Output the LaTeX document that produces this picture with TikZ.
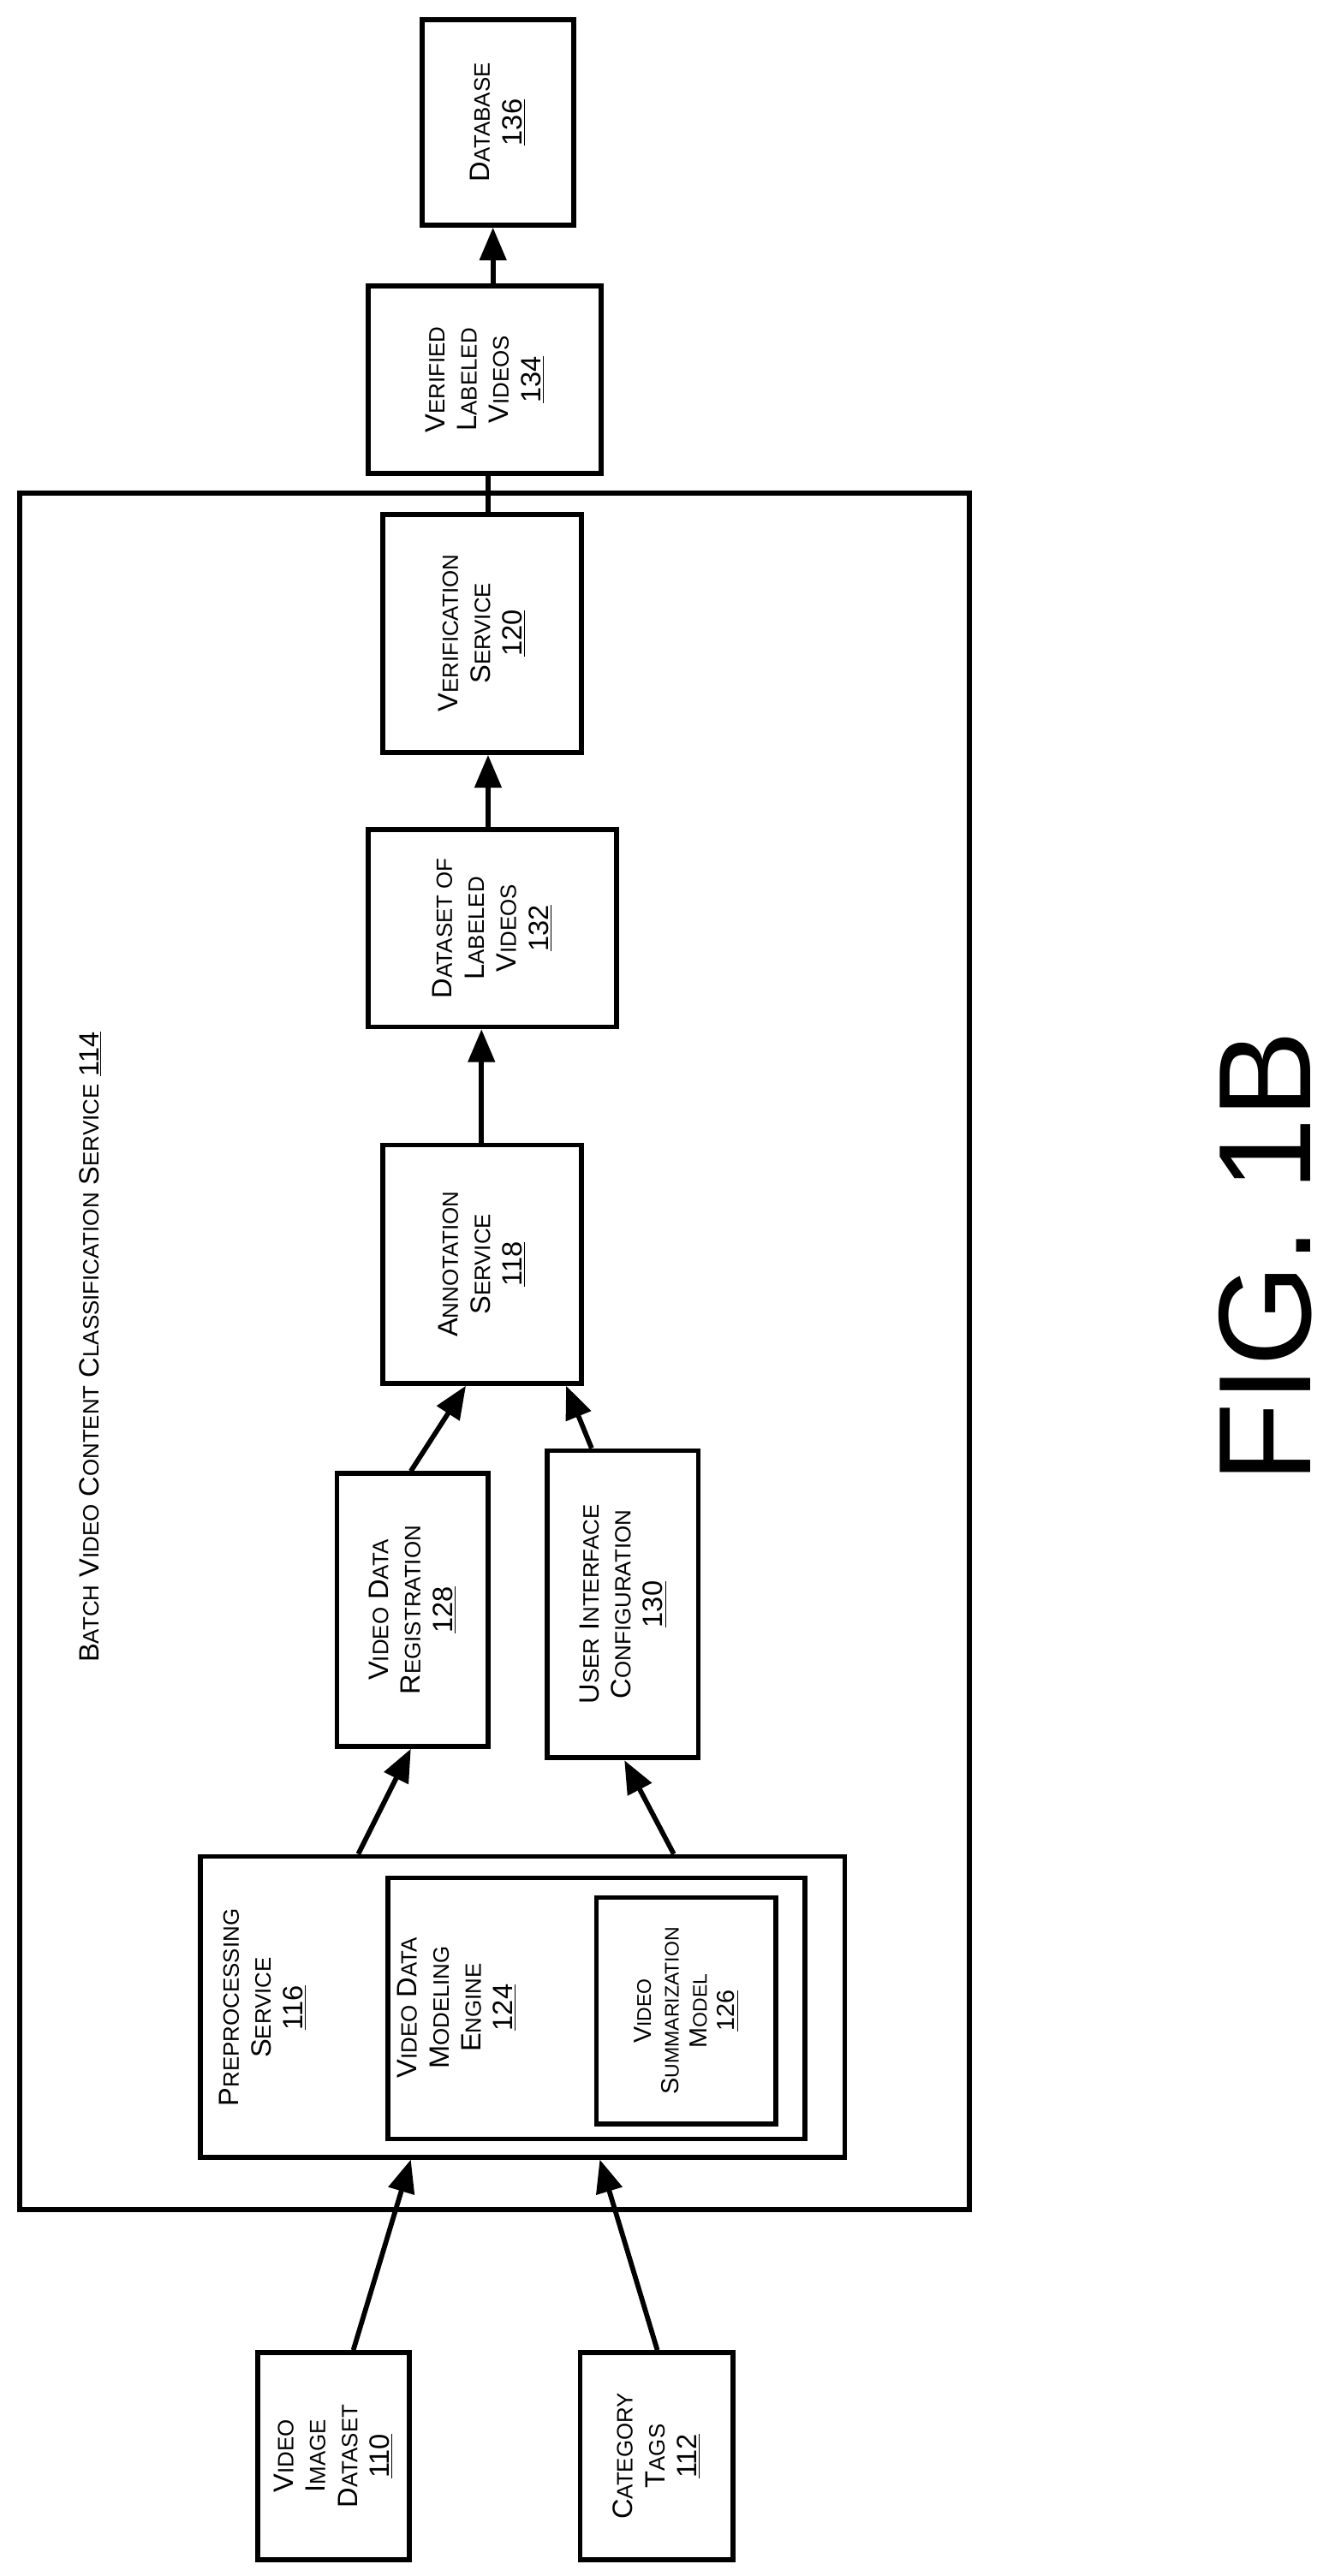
\documentclass[tikz,border=0pt]{standalone}
\usepackage{fontspec}
\setmainfont{Liberation Sans}
\usetikzlibrary{arrows.meta,calc}
\newcommand\sct[2]{#1{\fontsize{13.5}{15}\selectfont #2}}
\begin{document}
\begin{tikzpicture}[x=1pt,y=-1pt,
  box/.style={draw,line width=3pt,inner sep=0pt,font=\fontsize{17}{19.5}\selectfont},
  arr/.style={line width=3pt,-{Triangle[length=20pt,width=16pt]}},
  lbl/.style={rotate=90,align=center,font=\fontsize{17}{19.5}\selectfont}]
\useasboundingbox (0,0) rectangle (816,1568);
\node[box,minimum width=92,minimum height=125] (db) at (303,74.5) {};
\node[lbl] at (db) {\sct{D}{ATABASE}\\\underline{136}};
\node[box,minimum width=142,minimum height=114] (vlv) at (295,231) {};
\node[lbl] at (vlv) {\sct{V}{ERIFIED}\\\sct{L}{ABELED}\\\sct{V}{IDEOS}\\\underline{134}};
\draw[line width=3pt] (12,300) rectangle (590,1345);
\node[lbl] (outl) at (55,820) {\sct{B}{ATCH} \sct{V}{IDEO} \sct{C}{ONTENT} \sct{C}{LASSIFICATION} \sct{S}{ERVICE} \underline{114}};
\node[box,minimum width=121,minimum height=145] (ver) at (293.5,385.5) {};
\node[lbl] at (ver) {\sct{V}{ERIFICATION}\\\sct{S}{ERVICE}\\\underline{120}};
\node[box,minimum width=151,minimum height=120] (dlv) at (299.5,565) {};
\node[lbl] at (dlv) {\sct{D}{ATASET OF}\\\sct{L}{ABELED}\\\sct{V}{IDEOS}\\\underline{132}};
\node[box,minimum width=121,minimum height=145] (ann) at (293.5,769.5) {};
\node[lbl] at (ann) {\sct{A}{NNOTATION}\\\sct{S}{ERVICE}\\\underline{118}};
\node[box,minimum width=92,minimum height=166] (vdr) at (251,980) {};
\node[lbl] at (vdr) {\sct{V}{IDEO} \sct{D}{ATA}\\\sct{R}{EGISTRATION}\\\underline{128}};
\node[box,minimum width=92,minimum height=187] (uic) at (379,976.5) {};
\node[lbl] at (uic) {\sct{U}{SER} \sct{I}{NTERFACE}\\\sct{C}{ONFIGURATION}\\\underline{130}};
\node[box,minimum width=392,minimum height=183] (pre) at (318,1221.5) {};
\node[lbl] at (160,1222) {\sct{P}{REPROCESSING}\\\sct{S}{ERVICE}\\\underline{116}};
\node[box,minimum width=254,minimum height=159] (vdme) at (363,1222.5) {};
\node[lbl] at (278,1222) {\sct{V}{IDEO} \sct{D}{ATA}\\\sct{M}{ODELING}\\\sct{E}{NGINE}\\\underline{124}};
\node[box,minimum width=109,minimum height=138] (vsm) at (417.5,1224) {};
\node[lbl,font=\fontsize{15}{17}\selectfont] at (vsm) {V{\fontsize{12}{14}\selectfont IDEO}\\S{\fontsize{12}{14}\selectfont UMMARIZATION}\\M{\fontsize{12}{14}\selectfont ODEL}\\\underline{126}};
\node[box,minimum width=92,minimum height=126] (vid) at (203,1495) {};
\node[lbl] at (vid) {\sct{V}{IDEO}\\\sct{I}{MAGE}\\\sct{D}{ATASET}\\\underline{110}};
\node[box,minimum width=93,minimum height=126] (cat) at (399.5,1495) {};
\node[lbl] at (cat) {\sct{C}{ATEGORY}\\\sct{T}{AGS}\\\underline{112}};
\node[rotate=90,font=\fontsize{80}{88}\selectfont] (fig) at (770,765) {FIG. 1B};
% connectors
\draw[arr] ($(vid.north)+(12,0)$) -- ($(pre.south)+(-68,0)$);
\draw[arr] ($(cat.north)+(0.5,0)$) -- ($(pre.south)+(47,0)$);
\draw[arr] ($(pre.north)+(-100,0)$) -- ($(vdr.south)+(-1,0)$);
\draw[arr] ($(pre.north)+(92,0)$) -- ($(uic.south)+(1,0)$);
\draw[arr] ($(vdr.north)+(-1,0)$) -- ($(ann.south)+(-10,0)$);
\draw[arr] ($(uic.north)+(-19,0)$) -- ($(ann.south)+(51,0)$);
\draw[arr] ($(ann.north)+(-0.5,0)$) -- ($(dlv.south)+(-6.5,0)$);
\draw[arr] ($(dlv.north)+(-2.5,0)$) -- ($(ver.south)+(3.5,0)$);
\draw[line width=3pt] ($(ver.north)+(3.5,0)$) -- ($(vlv.south)+(2,0)$);
\draw[arr] ($(vlv.north)+(5,0)$) -- ($(db.south)+(-3,0)$);
\end{tikzpicture}
\end{document}
